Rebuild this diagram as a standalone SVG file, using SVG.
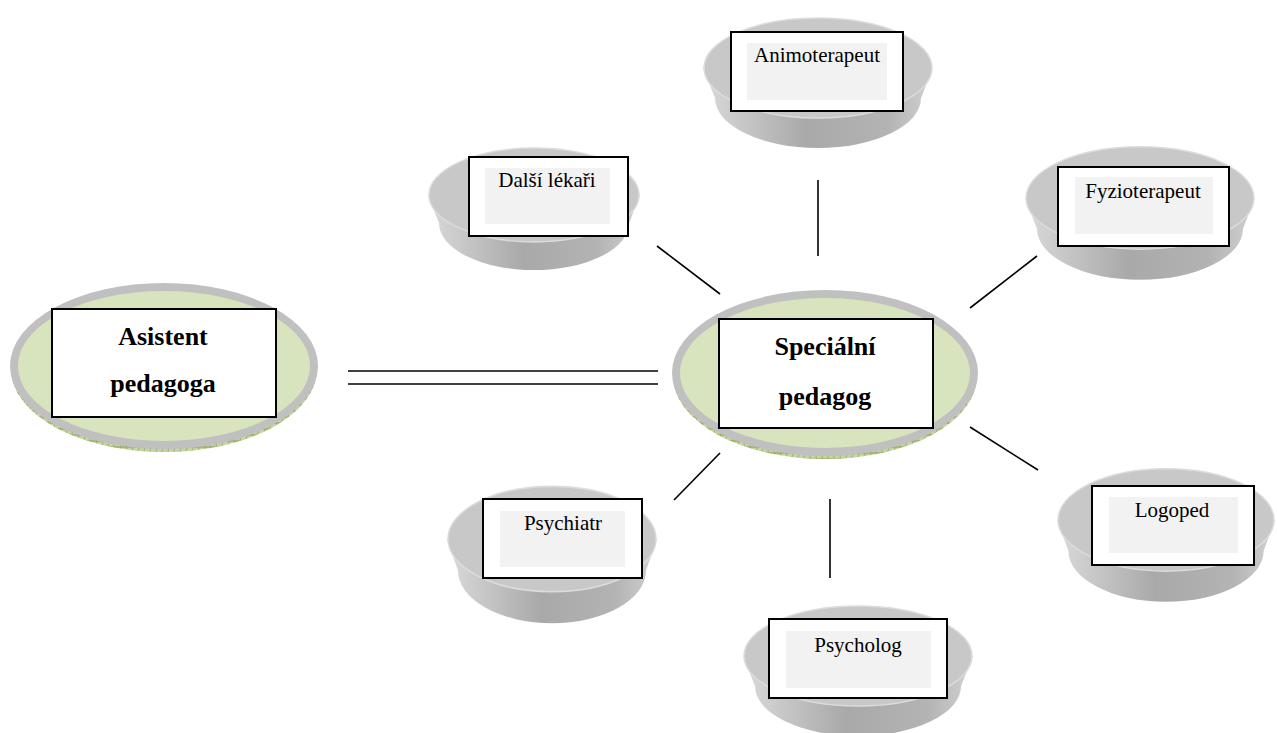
<svg xmlns="http://www.w3.org/2000/svg" xmlns:xlink="http://www.w3.org/1999/xlink" width="1277" height="733" viewBox="0 0 1277 733">
  <style>
    .conn { stroke: #000; stroke-width: 1.6; fill: none; }
    .box { fill: #fff; stroke: #000; stroke-width: 2; }
    .inner { fill: #f2f2f2; }
    .lbl { font-family: "Liberation Serif", "Times New Roman", serif; font-size: 21px; fill: #000; text-anchor: middle; }
    .big { font-family: "Liberation Serif", "Times New Roman", serif; font-size: 26px; font-weight: bold; fill: #000; text-anchor: middle; }
    .ring { fill: #c0c0c0; }
    .face { fill: #d7e4bd; }
  </style>
  <defs>
    <!-- olive hatch for the rim of the two main discs -->
    <pattern id="hatch" width="6" height="6" patternUnits="userSpaceOnUse">
      <rect width="6" height="6" fill="#c4d59e"/>
      <path d="M0 0 V6 M0 3 H6" stroke="#7a8f45" stroke-width="0.8"/>
      <path d="M0 6 L6 0" stroke="#9fb36b" stroke-width="0.5"/>
    </pattern>
    <linearGradient id="side" x1="0" y1="0" x2="1" y2="0">
      <stop offset="0" stop-color="#dadada"/>
      <stop offset="0.45" stop-color="#a9a9a9"/>
      <stop offset="0.8" stop-color="#b3b3b3"/>
      <stop offset="1" stop-color="#d2d2d2"/>
    </linearGradient>
    <!-- grey dish: top face centred on the origin, 230 x 131 overall -->
    <g id="dish">
      <path d="M-115 0 L-103 30 A103 50 0 0 0 103 30 L115 0 Z" fill="url(#side)"/>
      <ellipse cx="0" cy="0" rx="114" ry="50" fill="#c8c8c8" stroke="#dcdcdc" stroke-width="1.5"/>
    </g>
  </defs>

  <!-- connectors -->
  <g id="connectors">
    <line class="conn" x1="348" y1="371" x2="658" y2="371"/>
    <line class="conn" x1="348" y1="384" x2="658" y2="384"/>
    <line class="conn" x1="818" y1="180" x2="818" y2="256"/>
    <line class="conn" x1="657" y1="246" x2="720" y2="294"/>
    <line class="conn" x1="1037" y1="256" x2="970" y2="308"/>
    <line class="conn" x1="720" y1="453" x2="674" y2="500"/>
    <line class="conn" x1="830" y1="499" x2="830" y2="578"/>
    <line class="conn" x1="970" y1="427" x2="1038" y2="470"/>
  </g>

  <!-- Asistent pedagoga -->
  <g id="asistent">
    <ellipse cx="164" cy="369" rx="153" ry="83" fill="url(#hatch)"/>
    <ellipse class="ring" cx="164" cy="366" rx="154" ry="83"/>
    <ellipse class="face" cx="164" cy="366" rx="146" ry="75"/>
    <rect class="box" x="52" y="309" width="224" height="108"/>
    <text class="big" x="163" y="345">Asistent</text>
    <text class="big" x="163" y="392">pedagoga</text>
  </g>

  <!-- Speciální pedagog -->
  <g id="specialni">
    <ellipse cx="825" cy="376" rx="152" ry="83" fill="url(#hatch)"/>
    <ellipse class="ring" cx="825" cy="373" rx="153" ry="83"/>
    <ellipse class="face" cx="825" cy="373" rx="145" ry="75"/>
    <rect class="box" x="719" y="319" width="214" height="109"/>
    <text class="big" x="825" y="355">Speciální</text>
    <text class="big" x="825" y="405">pedagog</text>
  </g>

  <!-- Animoterapeut -->
  <g id="animoterapeut">
    <use xlink:href="#dish" transform="translate(818 68)"/>
    <rect class="box" x="731" y="32" width="172" height="79"/>
    <rect class="inner" x="747" y="43" width="140" height="57"/>
    <text class="lbl" x="817" y="62">Animoterapeut</text>
  </g>

  <!-- Další lékaři -->
  <g id="dalsi-lekari">
    <use xlink:href="#dish" transform="translate(534 195) scale(0.922 0.939)"/>
    <rect class="box" x="469" y="157" width="159" height="79"/>
    <rect class="inner" x="485" y="168" width="125" height="56"/>
    <text class="lbl" x="547" y="187">Další lékaři</text>
  </g>

  <!-- Fyzioterapeut -->
  <g id="fyzioterapeut">
    <use xlink:href="#dish" transform="translate(1140 198) scale(1 1.023)"/>
    <rect class="box" x="1058" y="167" width="171" height="79"/>
    <rect class="inner" x="1075" y="177" width="138" height="57"/>
    <text class="lbl" x="1143" y="198">Fyzioterapeut</text>
  </g>

  <!-- Psychiatr -->
  <g id="psychiatr">
    <use xlink:href="#dish" transform="translate(552 539) scale(0.913 1.053)"/>
    <rect class="box" x="483" y="499" width="159" height="79"/>
    <rect class="inner" x="500" y="511" width="125" height="56"/>
    <text class="lbl" x="563" y="530">Psychiatr</text>
  </g>

  <!-- Logoped -->
  <g id="logoped">
    <use xlink:href="#dish" transform="translate(1166 520) scale(0.948 1.023)"/>
    <rect class="box" x="1092" y="486" width="162" height="79"/>
    <rect class="inner" x="1109" y="497" width="129" height="56"/>
    <text class="lbl" x="1172" y="517">Logoped</text>
  </g>

  <!-- Psycholog -->
  <g id="psycholog">
    <use xlink:href="#dish" transform="translate(858 656)"/>
    <rect class="box" x="769" y="619" width="178" height="79"/>
    <rect class="inner" x="786" y="631" width="145" height="57"/>
    <text class="lbl" x="858" y="652">Psycholog</text>
  </g>
</svg>
